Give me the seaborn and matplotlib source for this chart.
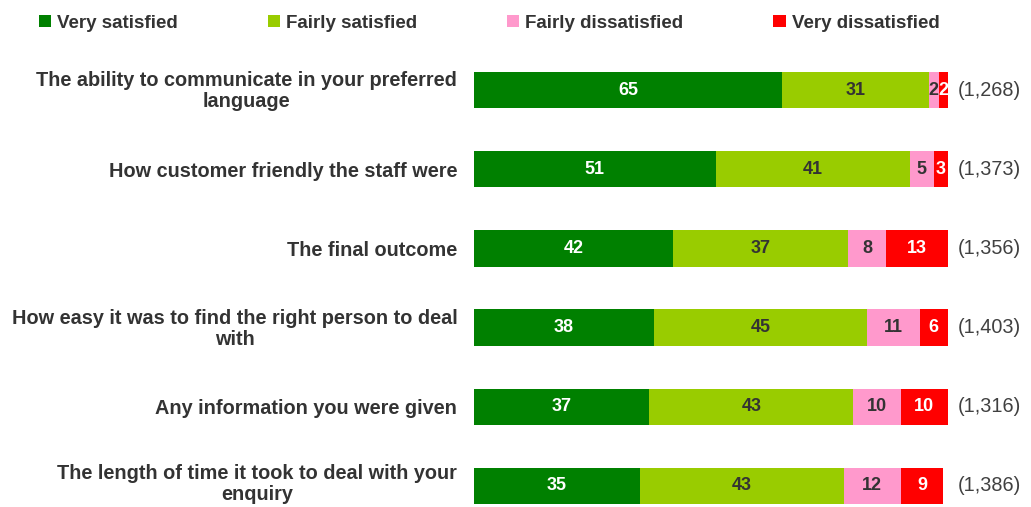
import numpy as np
import matplotlib
matplotlib.use("Agg")
import matplotlib.pyplot as plt
from matplotlib.patches import Patch
from matplotlib.transforms import ScaledTranslation
import seaborn as sns

sns.set_theme(style="white")
plt.rcParams['font.family'] = ['Liberation Sans', 'DejaVu Sans']

questions = [
    "The ability to communicate in your preferred\nlanguage",
    "How customer friendly the staff were",
    "The final outcome",
    "How easy it was to find the right person to deal\nwith",
    "Any information you were given",
    "The length of time it took to deal with your\nenquiry",
]
very_satisfied = [65, 51, 42, 38, 37, 35]
fairly_satisfied = [31, 41, 37, 45, 43, 43]
fairly_dissatisfied = [2, 5, 8, 11, 10, 12]
very_dissatisfied = [2, 3, 13, 6, 10, 9]
bases = ["(1,268)", "(1,373)", "(1,356)", "(1,403)", "(1,316)", "(1,386)"]

series_names = ["Very satisfied", "Fairly satisfied", "Fairly dissatisfied", "Very dissatisfied"]
colors = ["#008000", "#99CC00", "#FF99CC", "#FF0000"]
text_colors = ["white", "#333333", "#333333", "white"]

series = np.array([very_satisfied, fairly_satisfied, fairly_dissatisfied, very_dissatisfied])
cum = series.cumsum(axis=0)

fig = plt.figure(figsize=(10.31, 5.07), dpi=100)
ax = fig.add_axes([474 / 1031, 0, (948 - 474) / 1031, (507 - 50) / 507])

# stacked bars: draw cumulative totals from the back
for k in range(3, -1, -1):
    sns.barplot(x=cum[k], y=questions, color=colors[k], orient="h",
                width=0.46, saturation=1, ax=ax, linewidth=0)

for k in range(4):
    lefts = cum[k] - series[k]
    for i in range(len(questions)):
        ax.text(lefts[i] + series[k][i] / 2, i, str(series[k][i]),
                ha="center", va="center", fontsize=13, fontweight="bold",
                color=text_colors[k])

for i, b in enumerate(bases):
    ax.text(102.1, i, b, ha="left", va="center", fontsize=14.3, color="#404040")

ax.set_xlim(0, 100)
ax.set_ylim(5.266, -0.506)
ax.set_xlabel("")
ax.set_ylabel("")
ax.set_xticks([])
ax.tick_params(axis="y", length=0, pad=12)
labels = ax.get_yticklabels()
for i, lab in enumerate(labels):
    lab.set_fontweight("bold")
    lab.set_fontsize(14.3)
    lab.set_color("#333333")
    lab.set_multialignment("center")
    lab.set_linespacing(1.15)
    if "\n" in lab.get_text():
        # last label sits a little higher so it stays inside the figure
        dy = 5 if i == len(labels) - 1 else 2
        lab.set_transform(lab.get_transform() + ScaledTranslation(0, dy / 100, fig.dpi_scale_trans))
for s in ax.spines.values():
    s.set_visible(False)

handles = [Patch(facecolor=c, edgecolor="none") for c in colors]
leg = fig.legend(handles, series_names, loc="center left", bbox_to_anchor=(22 / 1031, 1 - 23 / 507),
                 ncol=4, frameon=False, handlelength=0.65, handleheight=0.65,
                 handletextpad=0.32, columnspacing=4.8,
                 prop={"weight": "bold", "size": 13.5})
for t in leg.get_texts():
    t.set_color("#333333")

fig.savefig("out.png", dpi=100)
